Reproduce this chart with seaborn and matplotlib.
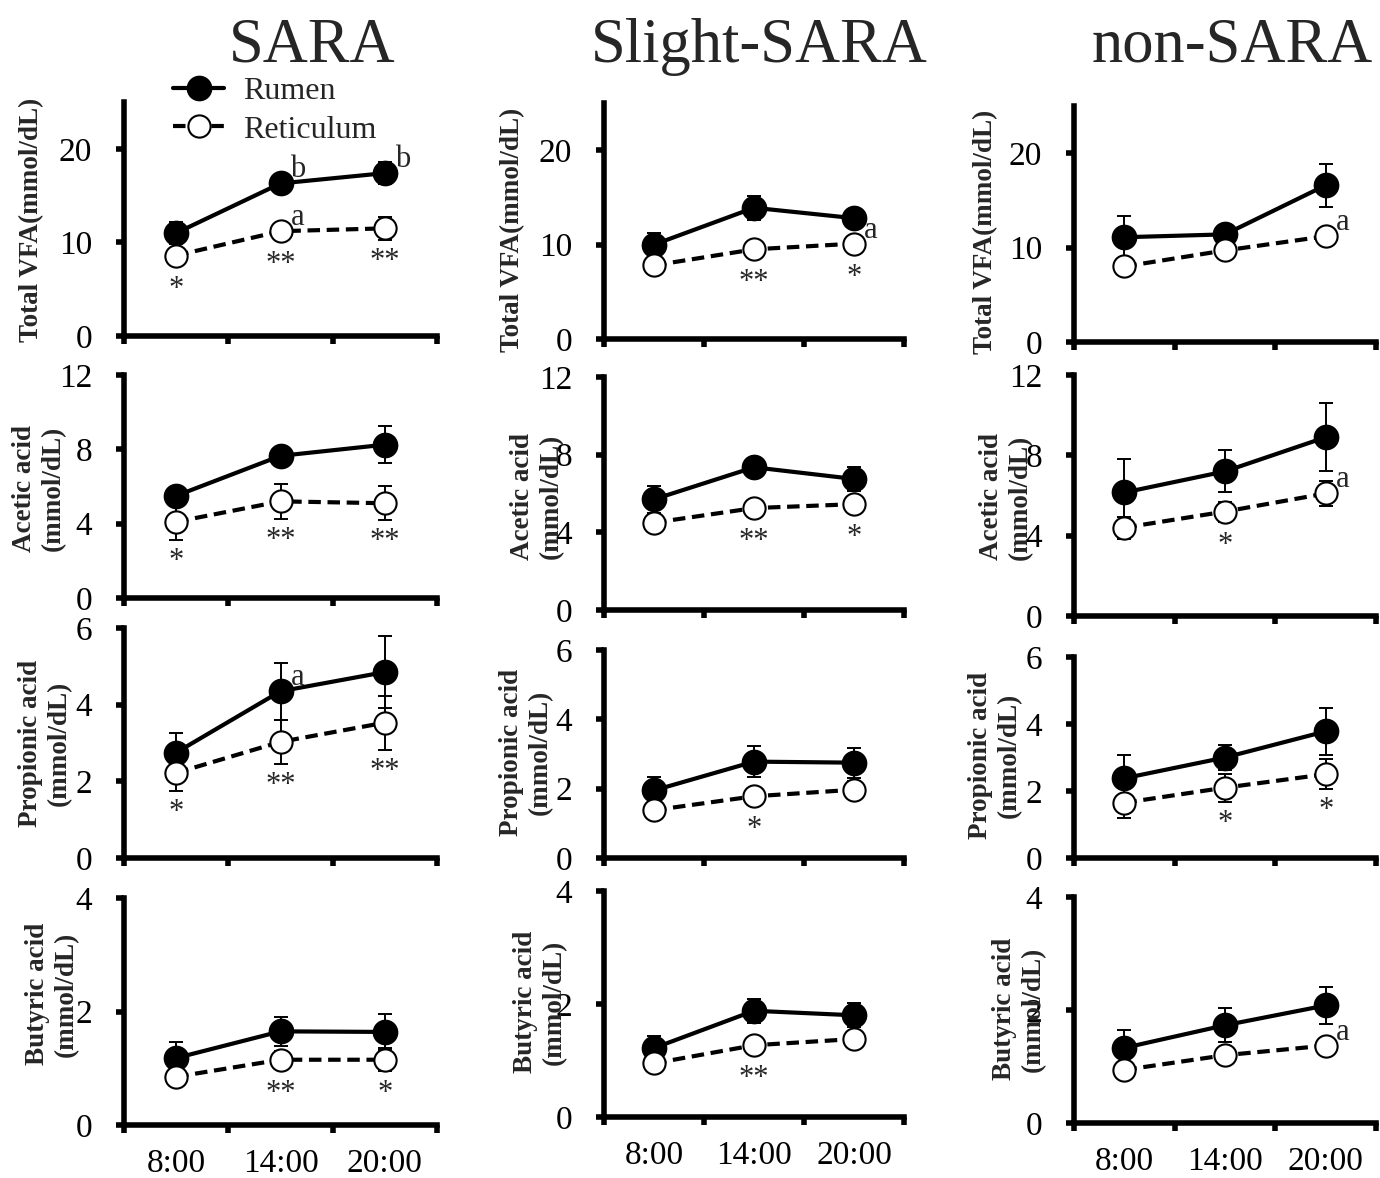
import matplotlib
matplotlib.use('Agg')
import matplotlib.pyplot as plt
import seaborn as sns
import numpy as np

# ---- data ----
times = ['8:00', '14:00', '20:00']
groups = ['SARA', 'Slight-SARA', 'non-SARA']
measures = ['Total VFA(mmol/dL)', 'Acetic acid\n(mmol/dL)',
            'Propionic acid\n(mmol/dL)', 'Butyric acid\n(mmol/dL)']
y_max = [25, 12, 6, 4]
y_ticks = [[0, 10, 20], [0, 4, 8, 12], [0, 2, 4, 6], [0, 2, 4]]

# each list: one row per group (SARA, Slight-SARA, non-SARA), one value per time
tvfa_rumen = [[11.0, 16.3, 17.4], [10.0, 13.9, 12.8], [11.1, 11.4, 16.6]]
tvfa_rumen_se = [[1.2, 0.7, 1.2], [1.2, 1.3, 0.5], [2.3, 0.6, 2.3]]
tvfa_ret = [[8.6, 11.2, 11.5], [7.8, 9.5, 10.1], [8.0, 9.7, 11.2]]
tvfa_ret_se = [[0.6, 0.8, 1.2], [0.5, 0.6, 0.6], [0.6, 0.5, 0.7]]

acetic_rumen = [[5.5, 7.65, 8.25], [5.7, 7.35, 6.75], [6.15, 7.2, 8.9]]
acetic_rumen_se = [[0.4, 0.4, 1.0], [0.7, 0.5, 0.62], [1.65, 1.05, 1.7]]
acetic_ret = [[4.1, 5.2, 5.1], [4.5, 5.25, 5.45], [4.4, 5.2, 6.1]]
acetic_ret_se = [[1.0, 0.95, 0.9], [0.3, 0.3, 0.3], [0.55, 0.5, 0.6]]

prop_rumen = [[2.75, 4.35, 4.85], [1.95, 2.78, 2.75], [2.38, 3.0, 3.78]]
prop_rumen_se = [[0.52, 0.75, 0.93], [0.4, 0.45, 0.43], [0.7, 0.38, 0.7]]
prop_ret = [[2.22, 3.03, 3.53], [1.38, 1.78, 1.97], [1.65, 2.1, 2.5]]
prop_ret_se = [[0.47, 0.57, 0.7], [0.2, 0.2, 0.25], [0.45, 0.42, 0.45]]

buty_rumen = [[1.18, 1.65, 1.64], [1.22, 1.88, 1.8], [1.33, 1.73, 2.08]]
buty_rumen_se = [[0.28, 0.26, 0.31], [0.21, 0.21, 0.21], [0.32, 0.3, 0.32]]
buty_ret = [[0.85, 1.15, 1.15], [0.95, 1.27, 1.38], [0.94, 1.2, 1.37]]
buty_ret_se = [[0.1, 0.15, 0.2], [0.1, 0.12, 0.12], [0.1, 0.15, 0.12]]

# significance marks below the reticulum points
tvfa_stars = [['*', '**', '**'], ['', '**', '*'], ['', '', '']]
acetic_stars = [['*', '**', '**'], ['', '**', '*'], ['', '*', '']]
prop_stars = [['*', '**', '**'], ['', '*', ''], ['', '*', '*']]
buty_stars = [['', '**', '*'], ['', '**', ''], ['', '', '']]

# letters next to rumen / reticulum points
tvfa_rumen_let = [['', 'b', 'b'], ['', '', ''], ['', '', '']]
tvfa_ret_let = [['', 'a', ''], ['', '', 'a'], ['', '', 'a']]
acetic_rumen_let = [['', '', ''], ['', '', ''], ['', '', '']]
acetic_ret_let = [['', '', ''], ['', '', ''], ['', '', 'a']]
prop_rumen_let = [['', 'a', ''], ['', '', ''], ['', '', '']]
prop_ret_let = [['', '', ''], ['', '', ''], ['', '', '']]
buty_rumen_let = [['', '', ''], ['', '', ''], ['', '', '']]
buty_ret_let = [['', '', ''], ['', '', ''], ['', '', 'a']]

rumen_all = [tvfa_rumen, acetic_rumen, prop_rumen, buty_rumen]
rumen_se_all = [tvfa_rumen_se, acetic_rumen_se, prop_rumen_se, buty_rumen_se]
ret_all = [tvfa_ret, acetic_ret, prop_ret, buty_ret]
ret_se_all = [tvfa_ret_se, acetic_ret_se, prop_ret_se, buty_ret_se]
stars_all = [tvfa_stars, acetic_stars, prop_stars, buty_stars]
rumen_let_all = [tvfa_rumen_let, acetic_rumen_let, prop_rumen_let, buty_rumen_let]
ret_let_all = [tvfa_ret_let, acetic_ret_let, prop_ret_let, buty_ret_let]

# ---- layout (pixels in a 1380 x 1178 canvas) ----
W, H, DPI = 1380, 1178, 100
col_left = [124, 604, 1074]
col_right = [437, 904, 1376]
row_top = [[102, 103, 106], [375, 377, 375], [628, 650, 657], [898, 891, 897]]
row_bottom = [[336, 339, 342], [598, 610, 616], [858, 858, 858], [1125, 1117, 1123]]
ylab_x = [[32, 513, 986], [39, 537, 1006], [45, 526, 995], [52, 540, 1019]]
ylab_y = [[220, 230, 232], [488, 496, 497], [743, 752, 755], [994, 1002, 1009]]
title_x = [312, 759, 1232]
title_base = 62
MARKER_RAD_PX = 12
STAR_GAP_PX = 7


def set_style():
    sns.set_theme(style="ticks")
    plt.rcParams['font.family'] = ['Liberation Serif', 'DejaVu Serif']
    plt.rcParams['axes.linewidth'] = 4


def style_axes(ax, ymax, ticks, bottom_row):
    x = np.arange(len(times))
    ax.set_xlim(-0.5, 2.5)
    ax.set_ylim(0, ymax)
    ax.set_yticks(ticks)
    ax.set_xticks([-0.5, 0.5, 1.5, 2.5])
    ax.set_xticklabels([])
    ax.set_xticks(x, minor=True)
    ax.set_xticklabels(times if bottom_row else ['', '', ''], minor=True)
    ax.tick_params(axis='x', which='major', length=6, width=4, direction='out', color='black')
    ax.tick_params(axis='x', which='minor', length=0, pad=17, labelsize=24, labelcolor='black')
    ax.tick_params(axis='y', length=6, width=4, pad=17, labelsize=24, color='black', labelcolor='black')
    sns.despine(ax=ax)
    for s in ['left', 'bottom']:
        ax.spines[s].set_linewidth(4)
        ax.spines[s].set_color('black')
        ax.spines[s].set_capstyle('projecting')
    ax.set_xlabel('')
    ax.set_ylabel('')
    ax.set_facecolor('white')


def draw_panel(ax, r_mean, r_se, t_mean, t_se, stars, r_let, t_let, px_per_unit):
    x = np.arange(len(times))
    ax.errorbar(x, r_mean, yerr=r_se, fmt='none', ecolor='black', elinewidth=1.4,
                capsize=5, capthick=1.4, zorder=1)
    ax.errorbar(x, t_mean, yerr=t_se, fmt='none', ecolor='black', elinewidth=1.4,
                capsize=5, capthick=1.4, zorder=1)
    sns.lineplot(x=x, y=r_mean, ax=ax, color='black', lw=3, marker='o', markersize=17,
                 markerfacecolor='black', markeredgecolor='black', markeredgewidth=1.5,
                 errorbar=None, label='Rumen', zorder=3)
    h_rumen = ax.lines[-1]
    sns.lineplot(x=x, y=t_mean, ax=ax, color='black', lw=3, linestyle=(0, (3, 1.6)),
                 marker='o', markersize=16, markerfacecolor='white', markeredgecolor='black',
                 markeredgewidth=1.5, errorbar=None, label='Reticulum', zorder=4)
    h_ret = ax.lines[-1]
    leg = ax.get_legend()
    if leg is not None:
        leg.remove()

    for i, s in enumerate(stars):
        if s:
            drop = max(t_se[i] * px_per_unit, MARKER_RAD_PX) + STAR_GAP_PX
            ax.annotate(s, (x[i], t_mean[i]), xytext=(0, -drop * 72 / DPI),
                        textcoords='offset points', ha='center', va='top', fontsize=22)
    for vals, lets in [(r_mean, r_let), (t_mean, t_let)]:
        for i, s in enumerate(lets):
            if s:
                ax.annotate(s, (x[i], vals[i]), xytext=(10 * 72 / DPI, 6 * 72 / DPI),
                            textcoords='offset points', ha='left', va='baseline', fontsize=22)
    return h_rumen, h_ret


def main():
    set_style()
    fig = plt.figure(figsize=(W / DPI, H / DPI), dpi=DPI)
    fig.patch.set_facecolor('white')

    legend_handles = None
    for r in range(len(measures)):
        for c in range(len(groups)):
            left, right = col_left[c], col_right[c]
            top, bottom = row_top[r][c], row_bottom[r][c]
            ax = fig.add_axes([left / W, 1 - bottom / H, (right - left) / W, (bottom - top) / H])
            px_per_unit = (bottom - top) / y_max[r]
            handles = draw_panel(ax, rumen_all[r][c], rumen_se_all[r][c], ret_all[r][c],
                                 ret_se_all[r][c], stars_all[r][c], rumen_let_all[r][c],
                                 ret_let_all[r][c], px_per_unit)
            style_axes(ax, y_max[r], y_ticks[r], r == len(measures) - 1)
            fig.text(ylab_x[r][c] / W, 1 - ylab_y[r][c] / H, measures[r], rotation=90,
                     ha='center', va='center', multialignment='center', linespacing=1.2,
                     fontsize=19.5, fontweight='bold')
            if r == 0 and c == 0:
                legend_handles = (ax, handles)

    ax0, handles = legend_handles
    ax0.legend(handles, ['Rumen', 'Reticulum'], loc='center left',
               bbox_to_anchor=(173 / W, 1 - 110.5 / H), bbox_transform=fig.transFigure,
               frameon=False, fontsize=23, handlelength=1.6, handletextpad=0.6,
               labelspacing=0.3, borderpad=0, borderaxespad=0)

    for c, g in enumerate(groups):
        fig.text(title_x[c] / W, 1 - title_base / H, g, ha='center', va='baseline', fontsize=45)

    fig.savefig('out.png', dpi=DPI, facecolor='white')
    plt.close(fig)


if __name__ == "__main__":
    main()
